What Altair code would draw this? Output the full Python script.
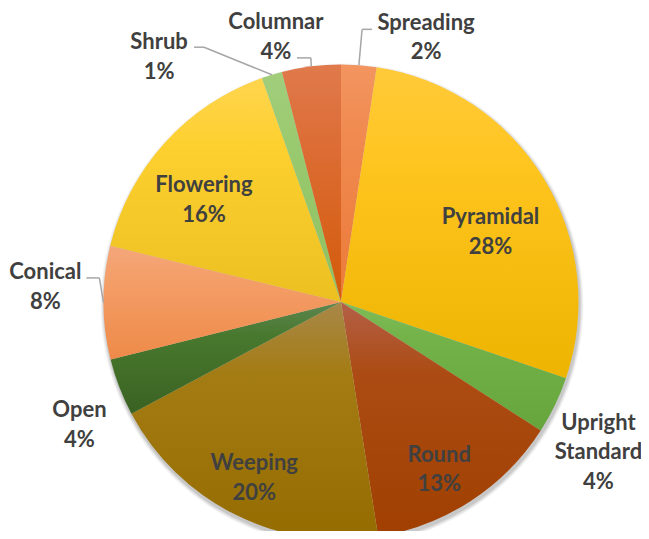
import altair as alt
import pandas as pd

# ---- data ----
categories = ["Spreading", "Pyramidal", "Upright Standard", "Round", "Weeping",
              "Open", "Conical", "Flowering", "Shrub", "Columnar"]
values = [2.4, 27.8, 3.9, 13.4, 19.7, 3.9, 7.7, 15.8, 1.4, 4.0]

# ---- styles ----
col_top = ["#F39560", "#FFCA3A", "#80BC58", "#B46048", "#A8884A",
           "#5E8650", "#F4A67A", "#FFD54E", "#A2CE7C", "#E07A4C"]
col_mid = ["#F08A50", "#FFC520", "#72B248", "#AC4C14", "#A47C14",
           "#48782E", "#F49E68", "#FDD030", "#9ACA70", "#DD6E38"]
col_bot = ["#EC7A38", "#EDB400", "#66A53C", "#A03F00", "#946C00",
           "#3A6222", "#EE8A48", "#EBC020", "#8EC060", "#D35A08"]

label_radius = [278, 165, 298, 194, 196, 289, 296, 171, 305, 273]
label_nudge = [13.5, 6.3, 4.5, 2.7, -0.2, -4.1, 3.1, -5.4, -19.7, -6.6]
# leader line offsets relative to label anchor (elbow x, end x, y)
lead_dx2 = [-64, None, None, None, None, None, 54, None, 45, 35]
lead_dx3 = [-54, None, None, None, None, None, 41, None, 35, 21]
lead_dy = [-8, None, None, None, None, None, -9, None, -10, 21]

W, H = 633, 523
CX, CY = 333, 294
R = 237.5
LH = 29.5

df = pd.DataFrame({
    "category": categories,
    "value": values,
    "order": list(range(len(categories))),
    "lr": label_radius,
    "ln": label_nudge,
    "l2dx": lead_dx2,
    "l3dx": lead_dx3,
    "ldy": lead_dy,
})

xs = alt.Scale(domain=[-CX, W - CX], range=[0, W])
ys = alt.Scale(domain=[-CY, H - CY], range=[0, H])
ts = alt.Scale(domain=[0, 1], range=[0, 6.283185307179586])

base = (
    alt.Chart(df)
    .transform_window(cum="sum(value)", sort=[alt.SortField("order")], frame=[None, 0])
    .transform_joinaggregate(total="sum(value)")
    .transform_calculate(
        t0="(datum.cum - datum.value) / datum.total",
        t1="datum.cum / datum.total",
        mid="(datum.cum - datum.value / 2) / datum.total",
    )
    .transform_calculate(
        a="datum.mid * 2 * PI + datum.ln * PI / 180",
        am="datum.mid * 2 * PI",
    )
    .transform_calculate(
        lx="datum.lr * sin(datum.a)",
        ly="-datum.lr * cos(datum.a)",
        ex=f"{R} * sin(datum.am)",
        ey=f"-{R} * cos(datum.am)",
        lab="replace(datum.category, ' ', '\\n') + '\\n' + format(datum.value / datum.total, '.0%')",
    )
    .transform_calculate(
        ty=f"datum.ly - (length(split(datum.lab, '\\n')) - 1) * {LH / 2}",
    )
)

layers = []

# soft shadow
for rr, op in [(R + 4, 0.04), (R + 3, 0.05), (R + 2, 0.06), (R + 1, 0.08)]:
    layers.append(
        base.transform_filter(alt.datum.order == 0)
        .mark_arc(radius=rr, theta=0, theta2=6.2832, fill="#000000", opacity=op)
        .encode(x=alt.value(CX + 1), y=alt.value(CY + 3))
    )

for i, c in enumerate(categories):
    grad = alt.LinearGradient(
        gradient="linear",
        x1=0, x2=0, y1=0, y2=1,
        stops=[
            alt.GradientStop(offset=0, color=col_top[i]),
            alt.GradientStop(offset=0.3, color=col_mid[i]),
            alt.GradientStop(offset=1, color=col_bot[i]),
        ],
    )
    layers.append(
        base.transform_filter(alt.datum.category == c)
        .mark_arc(radius=R, fill=grad)
        .encode(
            theta=alt.Theta("t0:Q", scale=ts, stack=None),
            theta2="t1:Q",
            x=alt.value(CX),
            y=alt.value(CY),
        )
    )

lead = base.transform_filter("isValid(datum.l2dx)").transform_calculate(
    p2x="datum.lx + datum.l2dx",
    p3x="datum.lx + datum.l3dx",
    py="datum.ly + datum.ldy",
)
rule_style = dict(color="#A6A6A6", strokeWidth=1.5)
layers.append(
    lead.mark_rule(**rule_style).encode(
        x=alt.X("ex:Q", scale=xs, axis=None),
        y=alt.Y("ey:Q", scale=ys, axis=None),
        x2="p2x:Q",
        y2="py:Q",
    )
)
layers.append(
    lead.mark_rule(**rule_style).encode(
        x=alt.X("p2x:Q", scale=xs, axis=None),
        y=alt.Y("py:Q", scale=ys, axis=None),
        x2="p3x:Q",
        y2="py:Q",
    )
)

layers.append(
    base.mark_text(
        lineBreak="\n", lineHeight=LH, font="Lato", fontWeight="bold",
        fontSize=22, color="#404040", align="center", baseline="middle",
    ).encode(
        x=alt.X("lx:Q", scale=xs, axis=None),
        y=alt.Y("ty:Q", scale=ys, axis=None),
        text="lab:N",
    )
)

chart = (
    alt.layer(*layers)
    .properties(width=W, height=H, padding=0, autosize=alt.AutoSizeParams(type="none"))
    .configure_view(stroke=None)
)

chart.save("out.html", embed_options={"renderer": "svg", "actions": False})
